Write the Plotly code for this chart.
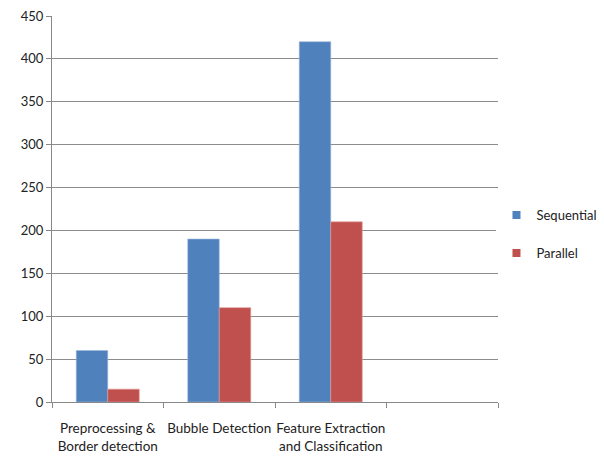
import plotly.graph_objects as go

categories = ["Preprocessing &<br>Border detection", "Bubble Detection",
              "Feature Extraction<br>and Classification", " "]
sequential = [60, 190, 420, None]
parallel = [15, 110, 210, None]
y_ticks = [0, 50, 100, 150, 200, 250, 300, 350, 400, 450]
series_names = ["Sequential", "Parallel"]
series_colors = ["#4F81BD", "#C0504D"]
edge_colors = ["#9DB8DA", "#E09A98"]

FONT = "Lato, Liberation Sans, sans-serif"

fig = go.Figure()
for name, vals, col, edge in zip(series_names, [sequential, parallel], series_colors, edge_colors):
    fig.add_trace(go.Bar(name=name, x=categories, y=vals,
                         marker=dict(color=col, line=dict(color=edge, width=0.6)),
                         showlegend=False))
for i, (name, col) in enumerate(zip(series_names, series_colors)):
    fig.add_trace(go.Scatter(name=name, x=[None], y=[None], mode="markers",
                             marker=dict(symbol="square", size=8, color=col),
                             legendgroup=f"g{i}", showlegend=True))

fig.update_layout(
    width=604, height=459,
    margin=dict(l=52, r=106, t=16, b=57, autoexpand=False),
    paper_bgcolor="white", plot_bgcolor="white",
    barmode="group", bargap=0.435, bargroupgap=0,
    font=dict(family=FONT, size=13, color="#222"),
    showlegend=True,
    legend=dict(xref="container", yref="container", x=0.822, y=0.49,
                xanchor="left", yanchor="middle",
                tracegroupgap=18, font=dict(size=13),
                itemwidth=30, traceorder="grouped", itemsizing="trace"),
)
fig.update_xaxes(
    type="category", categoryorder="array", categoryarray=categories,
    tickson="boundaries", ticks="outside", ticklen=5, tickcolor="#888",
    showline=True, linecolor="#888", linewidth=1, showgrid=False,
    tickangle=0, automargin=False, ticklabelstandoff=14,
    tickfont=dict(size=13.5, color="#222"),
)
fig.update_yaxes(
    range=[0, 450], tickvals=y_ticks,
    ticks="outside", ticklen=5, tickcolor="#888",
    showline=True, linecolor="#888", linewidth=1,
    showgrid=True, gridcolor="#8c8c8c", gridwidth=1, zeroline=False,
    automargin=False,
    tickfont=dict(size=13, color="#222"),
)

fig.write_html("out.html")
